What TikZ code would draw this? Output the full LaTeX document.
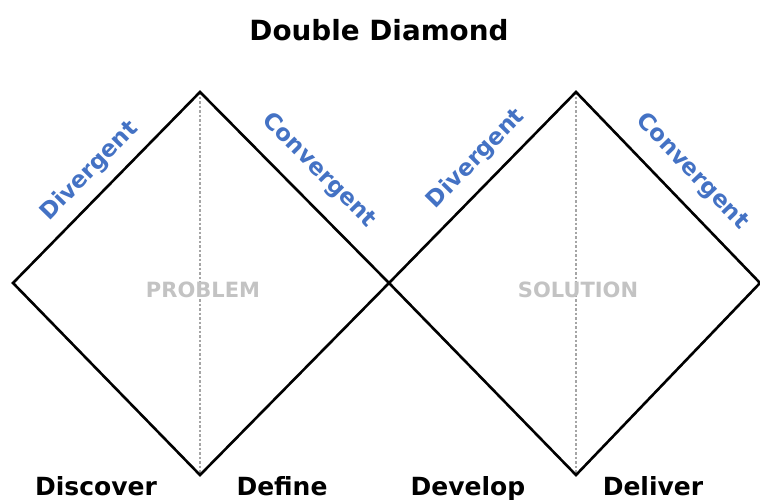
\documentclass[tikz,border=0pt]{standalone}
\usepackage{fontspec}
\setmainfont{DejaVu Sans}
\definecolor{divblue}{RGB}{68,114,196}
\definecolor{phasegray}{RGB}{195,195,195}
\definecolor{axisgray}{RGB}{165,165,165}
\tikzset{
  edge/.style={draw=black, line width=2.6pt, line join=miter},
  axis/.style={draw=axisgray, line width=2pt, dash pattern=on 2.5pt off 2pt},
  phase/.style={text=divblue, font=\fontsize{23}{27}\selectfont\bfseries, sloped, inner sep=0pt},
  space/.style={text=phasegray, font=\fontsize{21}{25}\selectfont\bfseries, anchor=base},
  stage/.style={font=\fontsize{25}{30}\selectfont\bfseries, anchor=base}
}
\begin{document}
\begin{tikzpicture}[x=1pt,y=-1pt]
  \useasboundingbox (0,0) rectangle (760,499);

  \node (title) [font=\fontsize{27.8}{33}\selectfont\bfseries, anchor=base] at (379,40) { Double Diamond };

  \coordinate (left) at (13,283);
  \coordinate (top1) at (200,92);
  \coordinate (bot1) at (200,475);
  \coordinate (mid) at (389,283);
  \coordinate (top2) at (576,92);
  \coordinate (bot2) at (576,475);
  \coordinate (right) at (760,283);

  \draw [axis] (top1) -- (bot1);
  \draw [axis] (top2) -- (bot2);

  \draw [edge] (left) -- node [phase, above=11pt, pos=0.5] { Divergent } (top1)
    -- node [phase, above=17pt, pos=0.52] { Convergent } (mid) -- (bot1) -- cycle;
  \draw [edge] (mid) -- node [phase, above=12pt, pos=0.56] { Divergent } (top2)
    -- node [phase, above=16pt, pos=0.52] { Convergent } (right) -- (bot2) -- cycle;

  \node (problem) [space] at (203,297) { PROBLEM };
  \node (solution) [space] at (578,297) { SOLUTION };

  \node (discover) [stage] at (96,495) { Discover };
  \node (define) [stage] at (282,495) { Define };
  \node (develop) [stage] at (468,495) { Develop };
  \node (deliver) [stage] at (653,495) { Deliver };
\end{tikzpicture}
\end{document}
